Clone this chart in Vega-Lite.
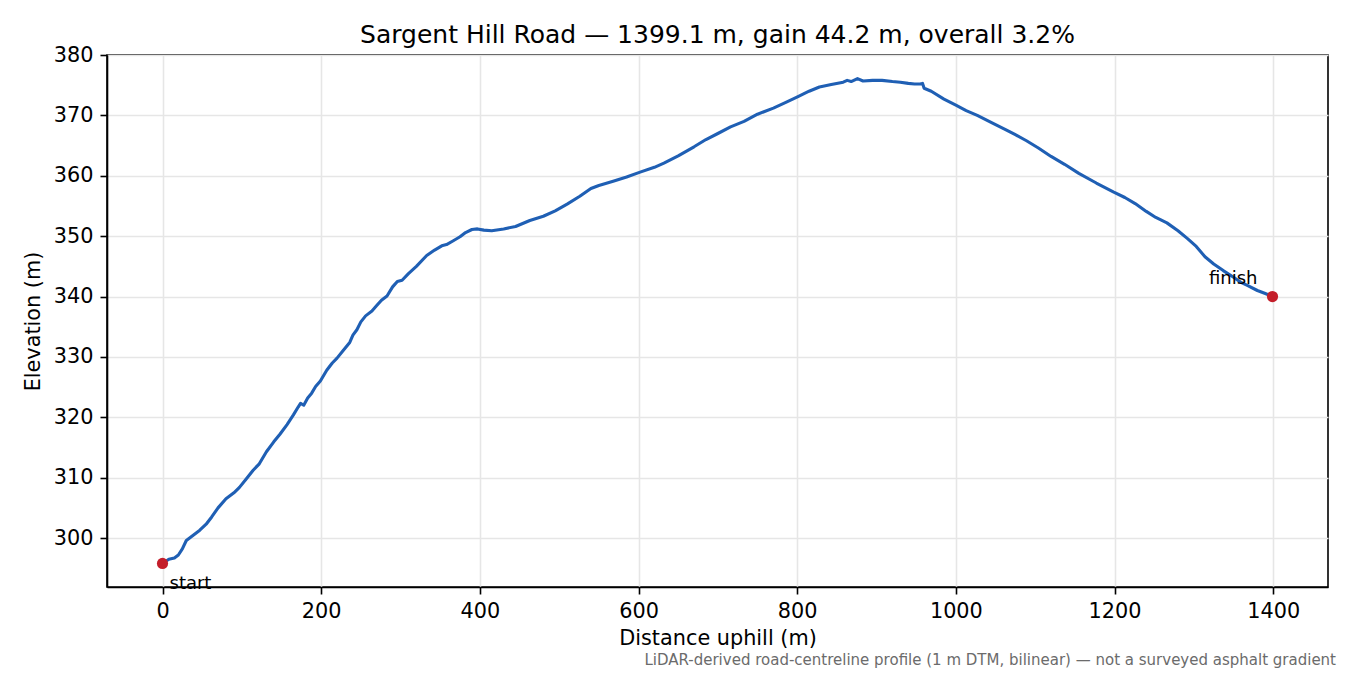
{
  "$schema": "https://vega.github.io/schema/vega-lite/v6.json",
  "autosize": "none",
  "width": 1221,
  "height": 532,
  "padding": {"left": 107, "top": 55, "right": 22, "bottom": 88},
  "background": "white",
  "config": {
    "font": "DejaVu Sans",
    "view": {"stroke": "#000000", "strokeWidth": 1.6},
    "axis": {
      "domainColor": "#000000", "domainWidth": 1.6,
      "tickColor": "#000000", "tickWidth": 1.6, "tickSize": 7,
      "labelFont": "DejaVu Sans", "labelFontSize": 20.8, "labelColor": "#000000", "labelPadding": 7,
      "titleFont": "DejaVu Sans", "titleFontSize": 20.8, "titleFontWeight": "normal", "titleColor": "#000000",
      "gridColor": "#e6e6e6", "gridWidth": 1.6
    }
  },
  "title": {
    "text": "Sargent Hill Road — 1399.1 m, gain 44.2 m, overall 3.2%",
    "font": "DejaVu Sans", "fontSize": 25, "fontWeight": "normal", "color": "#000000",
    "anchor": "middle", "offset": -4
  },
  "datasets": {
    "profile": [
      {"d": 0, "e": 295.8}, {"d": 8, "e": 296.5}, {"d": 15, "e": 296.7}, {"d": 20, "e": 297.2},
      {"d": 25, "e": 298.2}, {"d": 30, "e": 299.6}, {"d": 35, "e": 300.1}, {"d": 47, "e": 301.3},
      {"d": 55, "e": 302.3}, {"d": 62, "e": 303.5}, {"d": 70, "e": 305.0}, {"d": 80, "e": 306.5},
      {"d": 90, "e": 307.5}, {"d": 97, "e": 308.4}, {"d": 105, "e": 309.7}, {"d": 114, "e": 311.2},
      {"d": 122, "e": 312.3}, {"d": 131, "e": 314.3}, {"d": 140, "e": 315.9}, {"d": 148, "e": 317.2},
      {"d": 157, "e": 318.8}, {"d": 165, "e": 320.4}, {"d": 171, "e": 321.7}, {"d": 174, "e": 322.3},
      {"d": 178, "e": 322.0}, {"d": 183, "e": 323.2}, {"d": 188, "e": 324.0}, {"d": 193, "e": 325.1},
      {"d": 199, "e": 326.0}, {"d": 207, "e": 327.8}, {"d": 214, "e": 329.0}, {"d": 220, "e": 329.8},
      {"d": 228, "e": 331.1}, {"d": 236, "e": 332.4}, {"d": 240, "e": 333.6}, {"d": 245, "e": 334.5},
      {"d": 250, "e": 335.8}, {"d": 256, "e": 336.8}, {"d": 264, "e": 337.6}, {"d": 270, "e": 338.5},
      {"d": 276, "e": 339.4}, {"d": 283, "e": 340.1}, {"d": 290, "e": 341.6}, {"d": 296, "e": 342.5},
      {"d": 302, "e": 342.7}, {"d": 310, "e": 343.8}, {"d": 320, "e": 345.0}, {"d": 333, "e": 346.8},
      {"d": 343, "e": 347.7}, {"d": 352, "e": 348.4}, {"d": 358, "e": 348.6}, {"d": 366, "e": 349.2},
      {"d": 375, "e": 349.9}, {"d": 382, "e": 350.6}, {"d": 390, "e": 351.1}, {"d": 397, "e": 351.2},
      {"d": 405, "e": 351.0}, {"d": 415, "e": 350.9}, {"d": 430, "e": 351.2}, {"d": 445, "e": 351.6},
      {"d": 463, "e": 352.6}, {"d": 480, "e": 353.3}, {"d": 495, "e": 354.2}, {"d": 510, "e": 355.3},
      {"d": 526, "e": 356.6}, {"d": 540, "e": 357.9}, {"d": 550, "e": 358.4}, {"d": 568, "e": 359.1},
      {"d": 585, "e": 359.8}, {"d": 602, "e": 360.6}, {"d": 620, "e": 361.4}, {"d": 632, "e": 362.1},
      {"d": 650, "e": 363.3}, {"d": 670, "e": 364.8}, {"d": 685, "e": 366.0}, {"d": 700, "e": 367.0},
      {"d": 716, "e": 368.1}, {"d": 733, "e": 369.0}, {"d": 750, "e": 370.2}, {"d": 770, "e": 371.2},
      {"d": 785, "e": 372.1}, {"d": 801, "e": 373.1}, {"d": 815, "e": 374.0}, {"d": 828, "e": 374.7},
      {"d": 843, "e": 375.1}, {"d": 858, "e": 375.5}, {"d": 863, "e": 375.8}, {"d": 868, "e": 375.6},
      {"d": 876, "e": 376.1}, {"d": 883, "e": 375.7}, {"d": 895, "e": 375.8}, {"d": 907, "e": 375.8},
      {"d": 920, "e": 375.6}, {"d": 930, "e": 375.5}, {"d": 940, "e": 375.3}, {"d": 948, "e": 375.2},
      {"d": 955, "e": 375.2}, {"d": 958, "e": 375.3}, {"d": 960, "e": 374.5}, {"d": 969, "e": 374.0},
      {"d": 985, "e": 372.7}, {"d": 1000, "e": 371.7}, {"d": 1013, "e": 370.8}, {"d": 1027, "e": 370.0},
      {"d": 1045, "e": 368.8}, {"d": 1062, "e": 367.7}, {"d": 1075, "e": 366.8}, {"d": 1089, "e": 365.8},
      {"d": 1104, "e": 364.6}, {"d": 1120, "e": 363.2}, {"d": 1137, "e": 361.9}, {"d": 1155, "e": 360.4},
      {"d": 1177, "e": 358.8}, {"d": 1199, "e": 357.3}, {"d": 1213, "e": 356.4}, {"d": 1226, "e": 355.4},
      {"d": 1240, "e": 354.1}, {"d": 1252, "e": 353.1}, {"d": 1266, "e": 352.2}, {"d": 1280, "e": 350.9},
      {"d": 1292, "e": 349.6}, {"d": 1303, "e": 348.3}, {"d": 1314, "e": 346.6}, {"d": 1325, "e": 345.4},
      {"d": 1337, "e": 344.3}, {"d": 1350, "e": 343.2}, {"d": 1360, "e": 342.3}, {"d": 1368, "e": 341.8},
      {"d": 1380, "e": 341.0}, {"d": 1390, "e": 340.5}, {"d": 1399.1, "e": 340.0}
    ],
    "ends": [
      {"d": 0, "e": 295.8, "label": "start"},
      {"d": 1399.1, "e": 340.0, "label": "finish"}
    ]
  },
  "layer": [
    {
      "data": {"name": "profile"},
      "mark": {"type": "line", "color": "#1f5fb4", "strokeWidth": 3.1, "strokeJoin": "round", "strokeCap": "round"},
      "encoding": {
        "x": {
          "field": "d", "type": "quantitative",
          "scale": {"domain": [-69.96, 1469.06], "nice": false, "zero": false},
          "axis": {"values": [0, 200, 400, 600, 800, 1000, 1200, 1400], "format": "d", "title": "Distance uphill (m)", "titlePadding": 8, "grid": true}
        },
        "y": {
          "field": "e", "type": "quantitative",
          "scale": {"domain": [291.9, 380], "nice": false, "zero": false},
          "axis": {"values": [300, 310, 320, 330, 340, 350, 360, 370, 380], "format": "d", "title": "Elevation (m)", "titlePadding": 10, "grid": true}
        }
      }
    },
    {
      "data": {"name": "ends"},
      "mark": {"type": "point", "filled": true, "color": "#c41e2a", "size": 125, "opacity": 1},
      "encoding": {
        "x": {"field": "d", "type": "quantitative"},
        "y": {"field": "e", "type": "quantitative"}
      }
    },
    {
      "data": {"name": "ends"},
      "transform": [{"filter": "datum.label == 'start'"}],
      "mark": {"type": "text", "align": "left", "baseline": "alphabetic", "dx": 7, "dy": 26, "fontSize": 18, "color": "#000000", "font": "DejaVu Sans"},
      "encoding": {
        "x": {"field": "d", "type": "quantitative"},
        "y": {"field": "e", "type": "quantitative"},
        "text": {"field": "label"}
      }
    },
    {
      "data": {"name": "ends"},
      "transform": [{"filter": "datum.label == 'finish'"}],
      "mark": {"type": "text", "align": "right", "baseline": "alphabetic", "dx": -15, "dy": -13, "fontSize": 18, "color": "#000000", "font": "DejaVu Sans"},
      "encoding": {
        "x": {"field": "d", "type": "quantitative"},
        "y": {"field": "e", "type": "quantitative"},
        "text": {"field": "label"}
      }
    },
    {
      "data": {"values": [{"note": "LiDAR-derived road-centreline profile (1 m DTM, bilinear) — not a surveyed asphalt gradient"}]},
      "mark": {"type": "text", "align": "right", "baseline": "alphabetic", "dx": 8, "dy": 78, "fontSize": 15, "color": "#6b6b6b", "font": "DejaVu Sans", "clip": false},
      "encoding": {
        "x": {"value": "width"},
        "y": {"value": "height"},
        "text": {"field": "note"}
      }
    }
  ]
}
